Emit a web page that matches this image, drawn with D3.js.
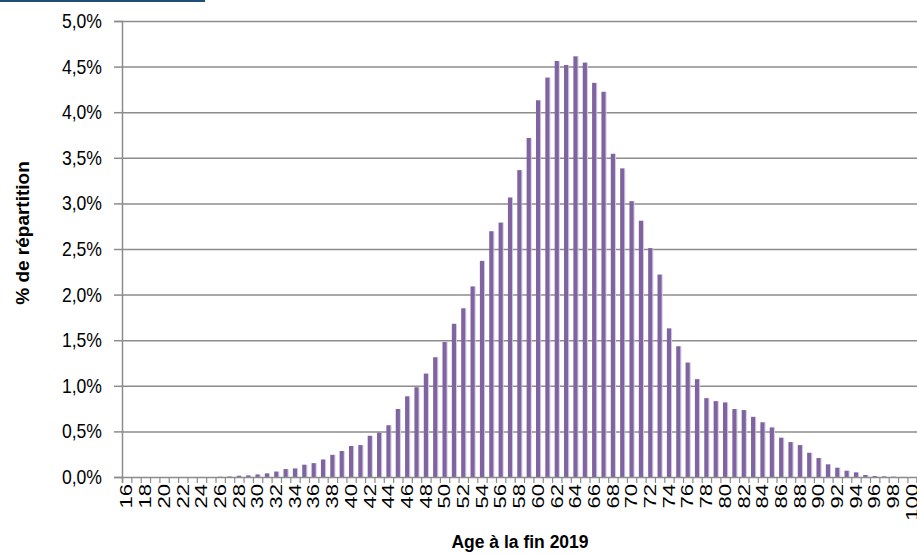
<!DOCTYPE html>
<html>
<head>
<meta charset="utf-8">
<script src="https://cdn.jsdelivr.net/npm/d3@7"></script>
<style>
  html, body { margin: 0; padding: 0; background: #fff; }
  svg { display: block; }
  text { font-family: "Liberation Sans", Arial, sans-serif; fill: #000; }
</style>
</head>
<body>
<svg id="chart" width="917" height="555"></svg>
<script>
const ages = [16,17,18,19,20,21,22,23,24,25,26,27,28,29,30,31,32,33,34,35,36,37,38,39,40,
  41,42,43,44,45,46,47,48,49,50,51,52,53,54,55,56,57,58,59,60,61,62,63,64,65,66,67,68,69,70,
  71,72,73,74,75,76,77,78,79,80,81,82,83,84,85,86,87,88,89,90,91,92,93,94,95,96,97,98,99,100];
const shares = [0,0,0,0,0,0,0,0,0,0,0.003,0.006,0.014,0.018,0.028,0.04,0.06,0.087,0.094,0.135,
  0.152,0.192,0.243,0.285,0.34,0.35,0.452,0.486,0.568,0.746,0.885,0.984,1.134,1.313,1.48,1.68,
  1.85,2.09,2.37,2.695,2.79,3.065,3.365,3.718,4.131,4.38,4.562,4.518,4.613,4.544,4.322,4.224,
  3.544,3.384,3.025,2.81,2.51,2.22,1.63,1.434,1.255,1.073,0.865,0.832,0.818,0.745,0.734,0.66,
  0.60,0.544,0.431,0.383,0.35,0.266,0.208,0.139,0.102,0.069,0.051,0.022,0.011,0.007,0.004,0.001,0.0005];
const yTicks = [0,0.5,1,1.5,2,2.5,3,3.5,4,4.5,5];
const xLabelAges = ages.filter((a, i) => i % 2 === 0);
const yTitle = "% de répartition";
const xTitle = "Age à la fin 2019";

(function () {
const svg = d3.select("#chart");
const mLeft = 122, mTop = 21, mBottom = 477;
const bandW = 9.35;
const mRight = mLeft + ages.length * bandW;

const x = d3.scaleBand().domain(ages).range([mLeft, mRight]).paddingInner(0).paddingOuter(0);
const y = d3.scaleLinear().domain([0, 5]).range([mBottom, mTop]);
const fmt = v => v.toFixed(1).replace(".", ",") + "%";

// top decoration (cut-off title underline)
svg.append("rect").attr("x", 0).attr("y", 0).attr("width", 205).attr("height", 2).attr("fill", "#1f4e79");

// gridlines
svg.append("g")
  .attr("transform", `translate(${mLeft},0)`)
  .call(d3.axisLeft(y).tickValues(yTicks.slice(1)).tickSize(-(917 - mLeft)).tickFormat(""))
  .call(g => g.select(".domain").remove())
  .call(g => g.selectAll("line").attr("stroke", "#8c8c8c").attr("stroke-width", 1.5));

// bars
const bw = 4.2;
svg.append("g").selectAll("rect").data(ages).join("rect")
  .attr("x", (d) => x(d) + (bandW - bw) / 2 + bw)
  .attr("y", (d, i) => y(shares[i]))
  .attr("width", 1)
  .attr("height", (d, i) => mBottom - y(shares[i]))
  .attr("fill", "#d6cce3");
svg.append("g").selectAll("rect").data(ages).join("rect")
  .attr("x", (d) => x(d) + (bandW - bw) / 2)
  .attr("y", (d, i) => y(shares[i]))
  .attr("width", bw)
  .attr("height", (d, i) => mBottom - y(shares[i]))
  .attr("fill", "#8064a2");

// y axis
const ySx = 0.88;
svg.append("g")
  .attr("transform", `translate(${mLeft},0)`)
  .call(d3.axisLeft(y).tickValues(yTicks).tickSize(8).tickFormat(fmt))
  .call(g => g.select(".domain").attr("stroke", "#8c8c8c").attr("stroke-width", 1.5))
  .call(g => g.selectAll("line").attr("stroke", "#8c8c8c").attr("stroke-width", 1.5))
  .call(g => g.selectAll(".tick text")
    .attr("x", -20 / ySx)
    .attr("transform", `scale(${ySx},1)`)
    .style("font-size", "20px"));

// x axis boundary ticks
const xb = d3.scaleLinear().domain([0, ages.length]).range([mLeft, mRight]);
svg.append("g")
  .attr("transform", `translate(0,${mBottom})`)
  .call(d3.axisBottom(xb).tickValues(d3.range(ages.length + 1)).tickSize(6).tickFormat(""))
  .call(g => g.select(".domain").attr("stroke", "#8c8c8c").attr("stroke-width", 1.5))
  .call(g => g.selectAll("line").attr("stroke", "#8c8c8c").attr("stroke-width", 1.2));

// x labels
svg.append("g")
  .attr("transform", `translate(0,${mBottom})`)
  .call(d3.axisBottom(x).tickValues(xLabelAges).tickSize(0).tickPadding(0))
  .call(g => g.select(".domain").remove())
  .call(g => g.selectAll(".tick text")
    .attr("transform", "scale(0.75,1) rotate(-90)")
    .attr("x", -7).attr("y", 0).attr("dy", "0.35em")
    .attr("text-anchor", "end")
    .style("font-size", "22px"));

// axis titles
svg.append("text")
  .attr("transform", `translate(29,233) rotate(-90)`)
  .attr("text-anchor", "middle")
  .style("font-size", "19px").style("font-weight", "bold")
  .text(yTitle);
svg.append("text")
  .attr("x", 520).attr("y", 548)
  .attr("text-anchor", "middle")
  .style("font-size", "17.5px").style("font-weight", "bold")
  .text(xTitle);
})();
</script>
</body>
</html>
